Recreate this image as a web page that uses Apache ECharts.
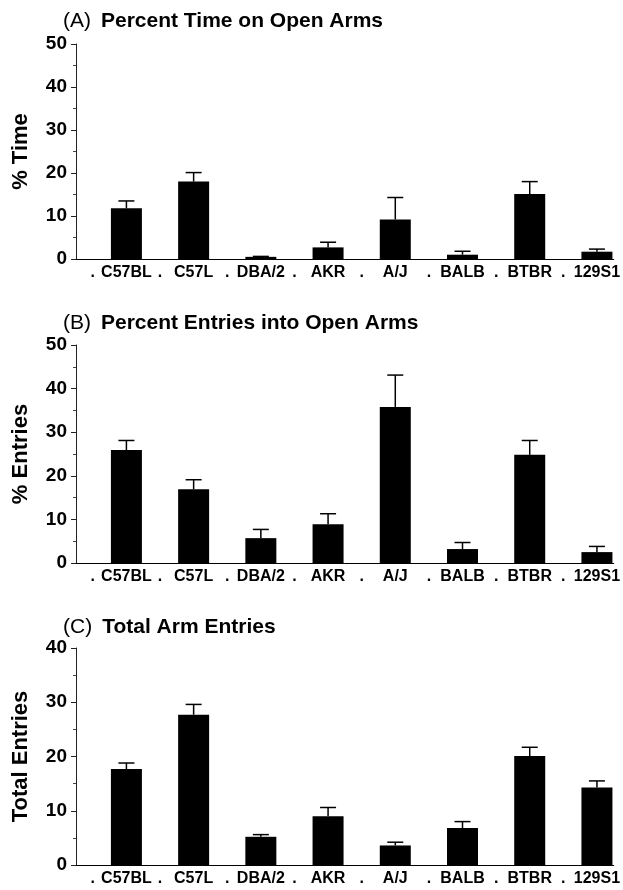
<!DOCTYPE html>
<html>
<head>
<meta charset="utf-8">
<script src="https://cdn.jsdelivr.net/npm/echarts@6/dist/echarts.min.js"></script>
<style>
  html, body { margin: 0; padding: 0; background: #fff; }
  #chart { width: 623px; height: 890px; }
</style>
</head>
<body>
<div id="chart"></div>
<script>
// Mouse strains shown on every panel
const strains = ['C57BL', 'C57L', 'DBA/2', 'AKR', 'A/J', 'BALB', 'BTBR', '129S1'];

// (A) Percent time on open arms: mean and SEM
const timeMean = [11.8, 18.0, 0.5, 2.7, 9.2, 1.0, 15.1, 1.7];
const timeSem  = [1.7, 2.1, 0.1, 1.2, 5.1, 0.8, 2.9, 0.6];

// (B) Percent entries into open arms: mean and SEM
const entryMean = [25.9, 16.9, 5.7, 8.9, 35.8, 3.2, 24.8, 2.5];
const entrySem  = [2.2, 2.2, 2.0, 2.4, 7.3, 1.5, 3.3, 1.3];

// (C) Total arm entries: mean and SEM
const totalMean = [17.7, 27.7, 5.2, 9.0, 3.6, 6.8, 20.1, 14.3];
const totalSem  = [1.1, 1.9, 0.4, 1.6, 0.6, 1.2, 1.6, 1.2];

// Panel headings, y-axis names and y-axis ranges
const panelLetters = ['(A)', '(B)', '(C)'];
const panelTitles = ['Percent Time on Open Arms', 'Percent Entries into Open Arms', 'Total Arm Entries'];
const yNames = ['% Time', '% Entries', 'Total Entries'];
const yMax = [50, 50, 40];

// Category axis alternates a "." spacer slot with each strain
const categories = [];
strains.forEach(s => { categories.push('.'); categories.push(s); });

const FONT = '"Liberation Sans", Arial, Helvetica, sans-serif';
const grids = [
  { left: 76, top: 44, width: 540, height: 215 },
  { left: 76, top: 345, width: 540, height: 218 },
  { left: 76, top: 648, width: 540, height: 217 }
];
const titleTops = [6, 308, 612];
const panels = [[timeMean, timeSem], [entryMean, entrySem], [totalMean, totalSem]];

const option = {
  animation: false,
  backgroundColor: '#fff',
  title: panelTitles.map((t, i) => ({
    text: '{a|' + panelLetters[i] + '}  {b|' + t + '}',
    left: 58,
    top: titleTops[i],
    textStyle: {
      rich: {
        a: { fontFamily: FONT, fontSize: 21, fontWeight: 'normal', color: '#000' },
        b: { fontFamily: FONT, fontSize: 21, fontWeight: 'bold', color: '#000' }
      }
    }
  })),
  grid: grids.map(g => Object.assign({ containLabel: false }, g)),
  xAxis: [],
  yAxis: [],
  series: []
};

grids.forEach((g, i) => {
  // Labelled axis: ticks under each slot centre
  option.xAxis.push({
    type: 'category',
    gridIndex: i,
    data: categories,
    axisLine: { lineStyle: { color: '#000', width: 1 } },
    axisTick: { alignWithLabel: true, length: 4, lineStyle: { color: '#000', width: 1 } },
    axisLabel: {
      interval: 0, margin: 6, color: '#000',
      fontFamily: FONT, fontSize: 16, fontWeight: 'bold'
    },
    splitLine: { show: false }
  });
  // Companion axis: ticks on the slot boundaries
  option.xAxis.push({
    type: 'category',
    gridIndex: i,
    data: categories,
    axisLine: { show: false },
    axisTick: { length: 4, lineStyle: { color: '#000', width: 1 } },
    axisLabel: { show: false },
    splitLine: { show: false }
  });
  option.yAxis.push({
    type: 'value',
    gridIndex: i,
    min: 0,
    max: yMax[i],
    interval: 10,
    name: yNames[i],
    nameLocation: 'middle',
    nameGap: 44,
    nameTextStyle: { fontFamily: FONT, fontSize: 22, fontWeight: 'bold', color: '#000' },
    axisLine: { show: true, lineStyle: { color: '#222', width: 1 } },
    axisTick: { show: true, length: 5, lineStyle: { color: '#222', width: 1 } },
    minorTick: { show: true, splitNumber: 2, length: 3, lineStyle: { color: '#444', width: 1 } },
    axisLabel: { margin: 9, color: '#000', fontFamily: FONT, fontSize: 19, fontWeight: 'bold' },
    splitLine: { show: false }
  });

  const mean = panels[i][0];
  const sem = panels[i][1];
  option.series.push({
    type: 'bar',
    xAxisIndex: 2 * i,
    yAxisIndex: i,
    barWidth: 31,
    itemStyle: { color: '#000' },
    data: mean.map((v, k) => [2 * k + 1, v])
  });
  option.series.push({
    type: 'custom',
    xAxisIndex: 2 * i,
    yAxisIndex: i,
    z: 3,
    data: mean.map((v, k) => [2 * k + 1, v, sem[k]]),
    renderItem: function (params, api) {
      const x = api.value(0);
      const m = api.value(1);
      const e = api.value(2);
      const base = api.coord([x, m]);
      const top = api.coord([x, m + e]);
      const half = 8;
      return {
        type: 'group',
        children: [
          { type: 'line', shape: { x1: base[0], y1: base[1], x2: top[0], y2: top[1] },
            style: { stroke: '#000', lineWidth: 1.5 } },
          { type: 'line', shape: { x1: top[0] - half, y1: top[1], x2: top[0] + half, y2: top[1] },
            style: { stroke: '#000', lineWidth: 1.5 } }
        ]
      };
    }
  });
});

const chart = echarts.init(document.getElementById('chart'), null, { renderer: 'canvas' });
chart.setOption(option);
</script>
</body>
</html>
